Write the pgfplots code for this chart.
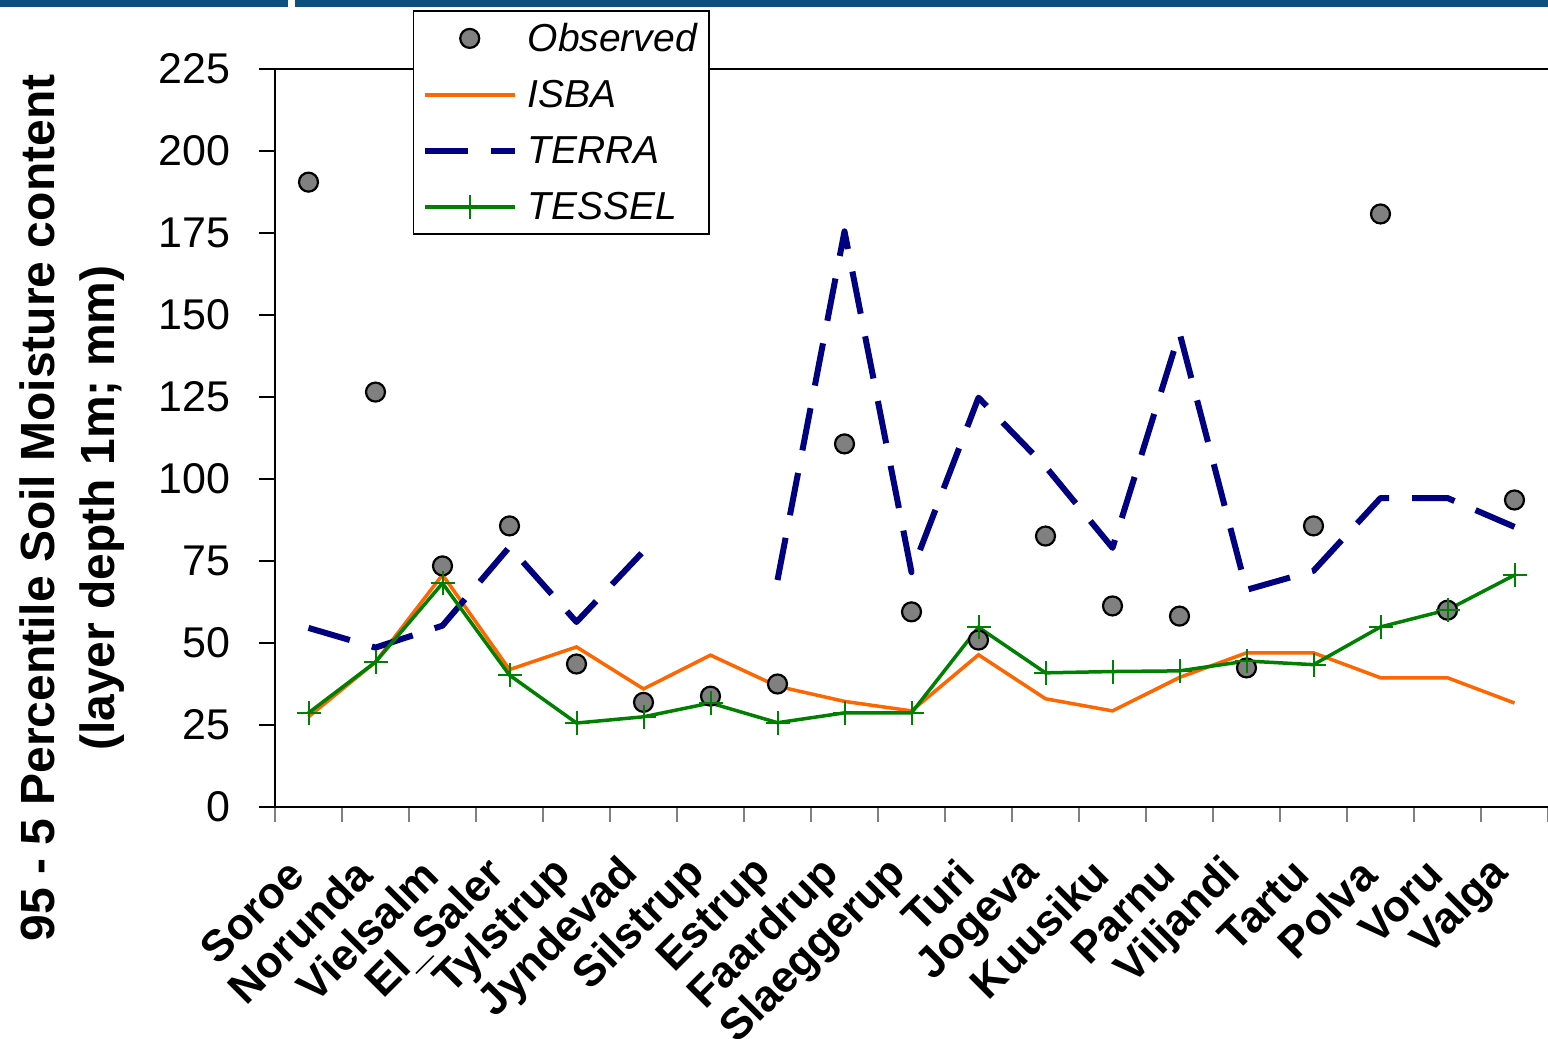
\documentclass[border=0pt]{standalone}
\usepackage{pgfplots}
\pgfplotsset{compat=1.18}
\usepackage{fontspec}
\setmainfont{Liberation Sans}
\definecolor{isba}{RGB}{255,102,0}
\definecolor{terra}{RGB}{0,0,128}
\definecolor{tessel}{RGB}{0,128,0}
\definecolor{obsgray}{RGB}{128,128,128}
\definecolor{topblue}{RGB}{13,79,126}
\begin{document}
\begin{tikzpicture}
\useasboundingbox (0bp,0bp) rectangle (774bp,519.5bp);
\fill[topblue] (0bp,516bp) rectangle (144bp,519.5bp);
\fill[topblue] (147.5bp,516bp) rectangle (774bp,519.5bp);
\begin{axis}[
  at={(137.5bp,116bp)}, anchor=south west,
  scale only axis, width=636.5bp, height=369bp,
  xmin=-0.5, xmax=18.5, ymin=0, ymax=225,
  axis x line*=bottom, axis y line*=left,
  axis line style={line width=1.25bp, black},
  xtick={0,...,18},
  xticklabels={Soroe, Norunda, Vielsalm, El\_Saler, Tylstrup, Jyndevad, Silstrup, Estrup, Faardrup, Slaeggerup, Turi, Jogeva, Kuusiku, Parnu, Viljandi, Tartu, Polva, Voru, Valga},
  major x tick style={opacity=0},
  minor xtick={-0.5,0.5,...,18.5},
  minor tick length=7.5bp,
  major tick length=8bp,
  tick align=outside,
  minor x tick style={line width=0.75bp, gray},
  ytick={0,25,...,225},
  y tick style={line width=0.75bp, black},
  /pgf/number format/assume math mode=true,
  yticklabel style={font=\fontsize{21.5bp}{25bp}\selectfont, anchor=east, inner sep=0pt, xshift=-14bp},
  xticklabel style={font=\fontsize{22bp}{26bp}\selectfont\bfseries, inner sep=0pt, xshift=-6bp, yshift=-22bp, rotate=45, anchor=east},
  ylabel={95 - 5 Percentile Soil Moisture content\\(layer depth 1m; mm)},
  ylabel style={align=center, font=\fontsize{24bp}{30bp}\selectfont\bfseries, at={(axis description cs:-0.1595,0.405)}, anchor=center},
  unbounded coords=jump,
  legend image code/.code={\draw[mark repeat=2,mark phase=2,#1] plot coordinates {(0bp,0bp) (22.5bp,0bp) (45bp,0bp)};},
  legend style={at={(axis description cs:0.1084,1.0799)}, anchor=north west, draw=black, line width=0.75bp, fill=white,
    font=\fontsize{19.5bp}{23bp}\selectfont\itshape, inner xsep=4bp, inner ysep=4bp, row sep=9bp, column sep=3bp},
  legend cell align=left,
]
\addplot[only marks, mark=*, mark size=4.75bp, mark options={fill=obsgray, draw=black, line width=1.1bp}] coordinates {
(0,190.5) (1,126.5) (2,73.5) (3,85.7) (4,43.6) (5,31.9) (6,33.8) (7,37.5) (8,110.7) (9,59.5)
(10,50.9) (11,82.6) (12,61.3) (13,58.2) (14,42.4) (15,85.7) (16,180.8) (17,60.0) (18,93.6)};
\addlegendentry{Observed}
\addplot[isba, line width=1.75bp, no markers] coordinates {
(0,27.5) (1,44.2) (2,70.8) (3,41.9) (4,48.8) (5,36.0) (6,46.3) (7,36.8) (8,32.2) (9,29.3)
(10,46.4) (11,33.0) (12,29.3) (13,39.5) (14,47.0) (15,47.0) (16,39.4) (17,39.4) (18,31.7)};
\addlegendentry{ISBA}
\addplot[terra, line width=3bp, line join=round, dash pattern=on 21.5bp off 11.5bp, no markers] coordinates {
(0,54.6) (1,48.6) (2,55.3) (3,79.3) (4,56.4) (5,78.0) (6,nan) (7,69.2) (8,175.5) (9,71.6)
(10,124.8) (11,103.8) (12,79.0) (13,144.6) (14,66.2) (15,72.0) (16,94.2) (17,94.2) (18,85.4)};
\addlegendentry{TERRA}
\addplot[tessel, line width=1.75bp, mark=+, mark size=6bp, mark options={line width=1bp, solid}] coordinates {
(0,28.7) (1,44.2) (2,68.2) (3,40.2) (4,25.6) (5,27.5) (6,31.7) (7,25.7) (8,28.7) (9,28.7)
(10,54.8) (11,40.9) (12,41.3) (13,41.5) (14,44.5) (15,43.4) (16,54.9) (17,60.1) (18,70.7)};
\addlegendentry{TESSEL}
\draw[line width=0.75bp, black] (rel axis cs:0,1) -- (rel axis cs:1,1);
\end{axis}
\end{tikzpicture}
\end{document}
